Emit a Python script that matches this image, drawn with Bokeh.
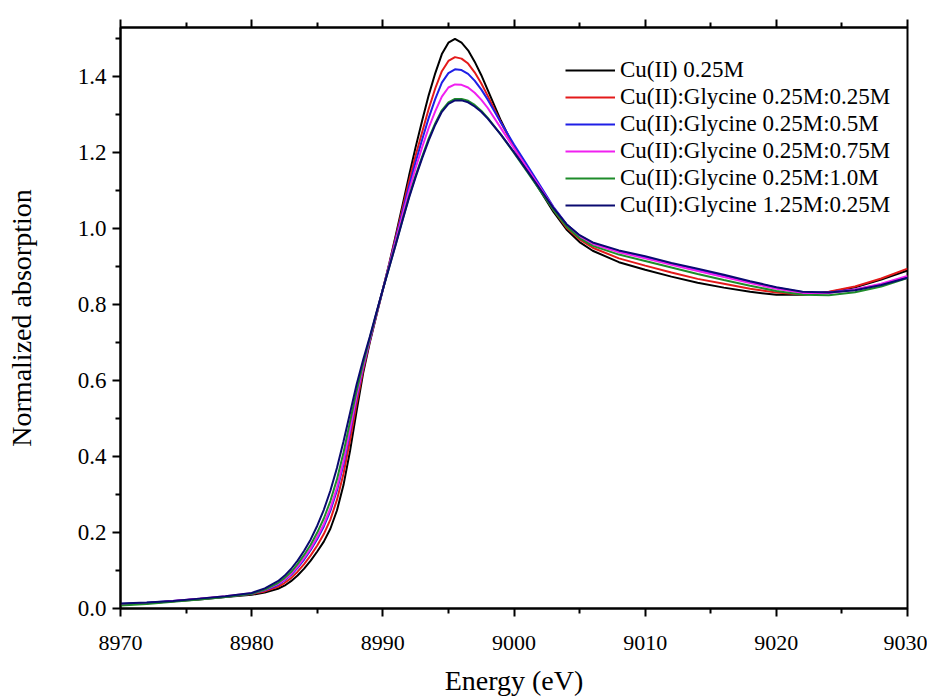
from bokeh.plotting import figure
from bokeh.models import (Range1d, LinearAxis, FixedTicker, Legend, LegendItem,
                          CustomJSTickFormatter)
from bokeh.embed import file_html
from bokeh.resources import INLINE

# ---- data ----
energy = [8970, 8972, 8974, 8976, 8978, 8980, 8981,
          8982, 8982.5, 8983, 8983.5, 8984, 8984.5, 8985, 8985.5, 8986, 8986.5,
          8987, 8987.5, 8988, 8988.5, 8989, 8989.5, 8990, 8990.5, 8991, 8991.5,
          8992, 8992.5, 8993, 8993.5, 8994, 8994.5, 8995, 8995.5,
          8996, 8996.5, 8997, 8997.5, 8998, 8999, 9000, 9001, 9002, 9003, 9004, 9005,
          9006, 9008, 9010, 9012, 9014, 9016, 9018, 9020, 9022, 9024, 9026, 9028, 9030]

cu_025 = [0.010, 0.014, 0.019, 0.024, 0.030, 0.036, 0.042,
          0.052, 0.060, 0.072, 0.087, 0.105, 0.126, 0.150, 0.176, 0.210, 0.258,
          0.325, 0.415, 0.520, 0.620, 0.700, 0.770, 0.840, 0.910, 0.985, 1.062,
          1.140, 1.215, 1.285, 1.352, 1.410, 1.460, 1.490, 1.500,
          1.490, 1.470, 1.440, 1.405, 1.365, 1.285, 1.215, 1.155, 1.100, 1.045, 0.998, 0.965,
          0.942, 0.912, 0.892, 0.874, 0.858, 0.845, 0.834, 0.826, 0.826, 0.833, 0.846, 0.866, 0.890]

gly_025_025 = [0.011, 0.014, 0.019, 0.025, 0.031, 0.038, 0.045,
               0.057, 0.067, 0.080, 0.097, 0.117, 0.140, 0.166, 0.196, 0.234, 0.286,
               0.355, 0.443, 0.540, 0.628, 0.703, 0.772, 0.840, 0.908, 0.980, 1.053,
               1.125, 1.193, 1.255, 1.316, 1.370, 1.415, 1.442, 1.452,
               1.448, 1.435, 1.412, 1.383, 1.350, 1.280, 1.215, 1.158, 1.104, 1.050, 1.003, 0.972,
               0.950, 0.922, 0.903, 0.885, 0.868, 0.855, 0.842, 0.832, 0.827, 0.834, 0.848, 0.869, 0.895]

gly_025_05 = [0.012, 0.015, 0.020, 0.025, 0.031, 0.039, 0.048,
              0.062, 0.074, 0.088, 0.107, 0.129, 0.154, 0.183, 0.216, 0.257, 0.311,
              0.380, 0.465, 0.555, 0.635, 0.706, 0.774, 0.840, 0.906, 0.975, 1.044,
              1.112, 1.176, 1.235, 1.292, 1.342, 1.385, 1.410, 1.420,
              1.418, 1.408, 1.390, 1.367, 1.340, 1.280, 1.222, 1.168, 1.113, 1.058, 1.012, 0.982,
              0.962, 0.940, 0.925, 0.908, 0.892, 0.876, 0.860, 0.845, 0.833, 0.832, 0.840, 0.853, 0.872]

gly_025_075 = [0.011, 0.014, 0.020, 0.026, 0.032, 0.040, 0.049,
               0.064, 0.076, 0.091, 0.110, 0.133, 0.158, 0.188, 0.222, 0.264, 0.318,
               0.388, 0.472, 0.560, 0.638, 0.708, 0.775, 0.840, 0.905, 0.970, 1.036,
               1.100, 1.160, 1.215, 1.266, 1.310, 1.348, 1.372, 1.380,
               1.379, 1.372, 1.358, 1.340, 1.318, 1.265, 1.212, 1.160, 1.108, 1.055, 1.010, 0.980,
               0.960, 0.938, 0.922, 0.905, 0.889, 0.873, 0.857, 0.842, 0.831, 0.831, 0.840, 0.855, 0.876]

gly_025_10 = [0.008, 0.012, 0.018, 0.024, 0.030, 0.039, 0.050,
              0.067, 0.080, 0.096, 0.117, 0.141, 0.168, 0.200, 0.237, 0.283, 0.340,
              0.410, 0.492, 0.573, 0.645, 0.711, 0.776, 0.840, 0.901, 0.962, 1.024,
              1.085, 1.140, 1.190, 1.238, 1.278, 1.312, 1.333, 1.342,
              1.342, 1.337, 1.326, 1.311, 1.292, 1.248, 1.200, 1.150, 1.100, 1.050, 1.006, 0.975,
              0.955, 0.932, 0.915, 0.898, 0.881, 0.865, 0.850, 0.836, 0.826, 0.825, 0.833, 0.848, 0.870]

gly_125_025 = [0.013, 0.016, 0.020, 0.026, 0.032, 0.041, 0.053,
               0.072, 0.086, 0.104, 0.126, 0.152, 0.182, 0.218, 0.260, 0.310, 0.370,
               0.440, 0.515, 0.590, 0.655, 0.715, 0.778, 0.840, 0.900, 0.960, 1.022,
               1.082, 1.136, 1.186, 1.233, 1.274, 1.308, 1.329, 1.338,
               1.338, 1.333, 1.322, 1.308, 1.290, 1.248, 1.202, 1.153, 1.104, 1.055, 1.012, 0.983,
               0.964, 0.943, 0.928, 0.910, 0.895, 0.879, 0.862, 0.846, 0.834, 0.832, 0.838, 0.852, 0.871]

labels = ["Cu(II) 0.25M", "Cu(II):Glycine 0.25M:0.25M", "Cu(II):Glycine 0.25M:0.5M",
          "Cu(II):Glycine 0.25M:0.75M", "Cu(II):Glycine 0.25M:1.0M", "Cu(II):Glycine 1.25M:0.25M"]
series = [cu_025, gly_025_025, gly_025_05, gly_025_075, gly_025_10, gly_125_025]
colors = ["#000000", "#e41a1a", "#1f1fe6", "#f020f0", "#1e8c2a", "#0a0a70"]

x_major = [8970, 8980, 8990, 9000, 9010, 9020, 9030]
x_minor = [8975, 8985, 8995, 9005, 9015, 9025]
y_major = [0.0, 0.2, 0.4, 0.6, 0.8, 1.0, 1.2, 1.4]
y_minor = [0.1, 0.3, 0.5, 0.7, 0.9, 1.1, 1.3, 1.5]

FONT = "Liberation Serif"

p = figure(frame_width=787, frame_height=581, output_backend="svg", toolbar_location=None,
           x_range=Range1d(8970, 9030), y_range=Range1d(0, 1.53),
           min_border_left=120, min_border_right=20, min_border_top=27, min_border_bottom=88)
p.xgrid.visible = False
p.ygrid.visible = False
p.outline_line_color = "black"
p.outline_line_width = 2
p.background_fill_color = "white"
p.border_fill_color = "white"

renderers = []
for ys, c in zip(series, colors):
    r = p.line(energy, ys, line_color=c, line_width=2)
    renderers.append(r)

def style_axis(ax, major, minor, show_labels):
    ax.ticker = FixedTicker(ticks=major, minor_ticks=minor)
    ax.axis_line_width = 2
    ax.axis_line_color = "black"
    ax.major_tick_line_width = 2
    ax.minor_tick_line_width = 2
    ax.major_tick_in = 0
    ax.major_tick_out = 8
    ax.minor_tick_in = 0
    ax.minor_tick_out = 5
    ax.major_label_text_font = FONT
    ax.major_label_text_font_size = "22px"
    ax.major_label_text_color = "black"
    ax.axis_label_text_font = FONT
    ax.axis_label_text_font_size = "28px"
    ax.axis_label_text_font_style = "normal"
    ax.axis_label_text_color = "black"
    if not show_labels:
        ax.formatter = CustomJSTickFormatter(code="return ''")

xa = p.xaxis[0]
style_axis(xa, x_major, x_minor, True)
xa.axis_label = "Energy (eV)"
xa.major_label_standoff = 19
xa.axis_label_standoff = 12

ya = p.yaxis[0]
style_axis(ya, y_major, y_minor, True)
ya.major_label_text_font_size = "23px"
ya.axis_label = "Normalized absorption"
ya.major_label_standoff = 6
ya.axis_label_standoff = 38
ya.formatter = CustomJSTickFormatter(code="return tick.toFixed(1)")

top = LinearAxis()
style_axis(top, x_major, x_minor, False)
p.add_layout(top, "above")

items = [LegendItem(label=l, renderers=[r]) for l, r in zip(labels, renderers)]
legend = Legend(items=items, location=(445, 390))
legend.label_text_font = FONT
legend.label_text_font_size = "23px"
legend.label_text_color = "black"
legend.glyph_width = 50
legend.glyph_height = 22
legend.label_height = 22
legend.label_standoff = 5
legend.spacing = 1
legend.padding = 5
legend.margin = 0
legend.border_line_color = None
legend.background_fill_alpha = 0
p.add_layout(legend, "center")

open("out.html", "w").write(file_html(p, INLINE))
